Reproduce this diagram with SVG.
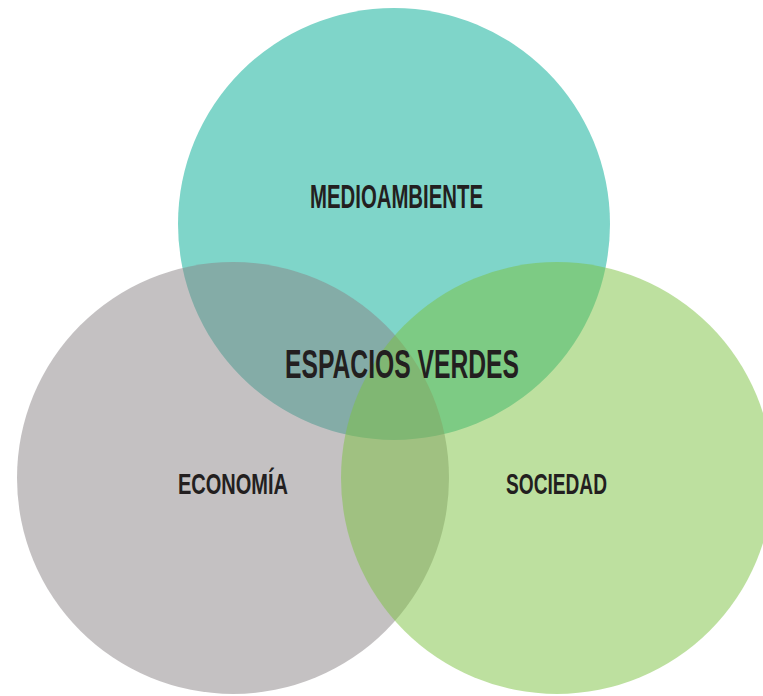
<svg xmlns="http://www.w3.org/2000/svg" width="763" height="696" viewBox="0 0 763 696">
<style>
.lbl{font-family:"Liberation Sans",Arial,sans-serif;font-weight:bold;fill:#231f20}
</style>
<rect width="763" height="696" fill="#ffffff"/>
<g id="medioambiente">
<circle cx="394" cy="224" r="216" fill="#7fd5c9"/>
</g>
<g id="economia">
<circle cx="233" cy="478" r="216" fill="#898385" fill-opacity="0.5"/>
</g>
<g id="sociedad">
<circle cx="557" cy="478" r="216" fill="#7bc13f" fill-opacity="0.5"/>
</g>
<g id="labels">
<text class="lbl" x="310" y="208" font-size="34" textLength="173" lengthAdjust="spacingAndGlyphs">MEDIOAMBIENTE</text>
<text class="lbl" x="285" y="378" font-size="41" font-weight="normal" textLength="234" lengthAdjust="spacingAndGlyphs">ESPACIOS VERDES</text>
<text class="lbl" x="178" y="494" font-size="30" textLength="110" lengthAdjust="spacingAndGlyphs">ECONOMÍA</text>
<text class="lbl" x="506" y="494" font-size="30" textLength="101" lengthAdjust="spacingAndGlyphs">SOCIEDAD</text>
</g>
</svg>
